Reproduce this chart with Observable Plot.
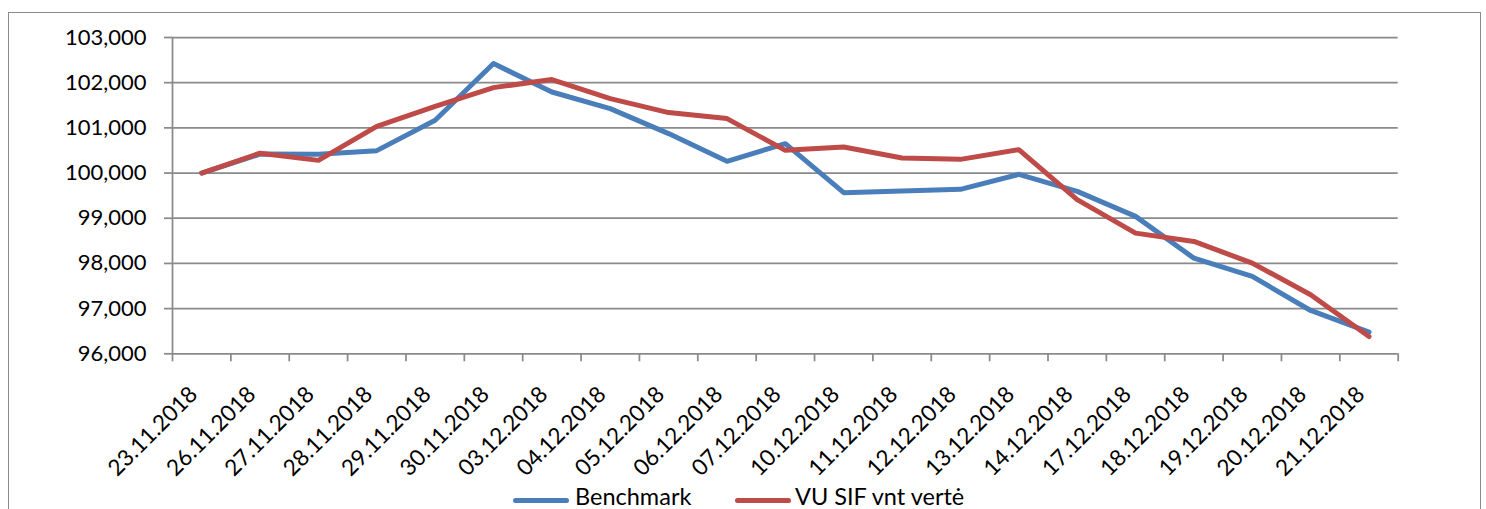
<!DOCTYPE html>
<html>
<head>
<meta charset="utf-8">
<script src="https://cdn.jsdelivr.net/npm/d3@7"></script>
<script src="https://cdn.jsdelivr.net/npm/@observablehq/plot@0.6"></script>
<style>
  html, body { margin: 0; padding: 0; background: #fff; }
  #wrap { position: relative; width: 1486px; height: 509px; overflow: hidden; font-family: Lato, "Open Sans", sans-serif; }
  #frame { position: absolute; left: 8px; top: 12px; width: 1473px; height: 520px; border: 1.5px solid #8a8a8a; box-sizing: border-box; }
  #chart { position: absolute; left: 0; top: 0; }
  #legend { position: absolute; left: 0; top: 0; width: 1486px; height: 509px; pointer-events: none; }
  .sw { position: absolute; height: 4.5px; border-radius: 3px; top: 498px; }
  .lt { position: absolute; font-size: 23.5px; top: 484px; line-height: 25px; color: #000; white-space: nowrap; }
</style>
</head>
<body>
<div id="wrap">
  <div id="frame"></div>
  <div id="chart"></div>
  <div id="legend"></div>
</div>
<script>
const dates = ["23.11.2018", "26.11.2018", "27.11.2018", "28.11.2018", "29.11.2018", "30.11.2018", "03.12.2018", "04.12.2018", "05.12.2018", "06.12.2018", "07.12.2018", "10.12.2018", "11.12.2018", "12.12.2018", "13.12.2018", "14.12.2018", "17.12.2018", "18.12.2018", "19.12.2018", "20.12.2018", "21.12.2018"];
const benchmark = [100000, 100420, 100414, 100496, 101167, 102423, 101794, 101426, 100873, 100259, 100651, 99566, 99601, 99639, 99971, 99595, 99041, 98117, 97712, 96959, 96478];
const vuSif = [100000, 100440, 100281, 101034, 101477, 101891, 102069, 101648, 101338, 101205, 100503, 100576, 100332, 100303, 100518, 99411, 98671, 98487, 98007, 97307, 96383];
const seriesNames = ["Benchmark", "VU SIF vnt vertė"];
const seriesColors = ["#4a7ebb", "#be4b48"];
const yTicks = [96000, 97000, 98000, 99000, 100000, 101000, 102000, 103000];

const idx = dates.map((d, i) => i);
const bounds = d3.range(dates.length + 1).map(i => i - 0.5);
const rowsB = idx.map(i => ({i, v: benchmark[i]}));
const rowsR = idx.map(i => ({i, v: vuSif[i]}));
const grid = "#8a8a8a";

const chart = Plot.plot({
  width: 1486,
  height: 509,
  marginLeft: 172,
  marginRight: 88.3,
  marginTop: 37,
  marginBottom: 155.7,
  style: {fontFamily: "Lato, 'Open Sans', sans-serif", fontSize: "22px", background: "transparent", color: "#000"},
  x: {type: "linear", domain: [-0.5, dates.length - 0.5], label: null},
  y: {domain: [96000, 103000], label: null},
  marks: [
    Plot.gridY(yTicks, {stroke: grid, strokeOpacity: 1, strokeWidth: 1.75}),
    Plot.ruleX([-0.5], {stroke: grid, strokeWidth: 1.75}),
    Plot.axisY({ticks: yTicks, tickSize: 8, tickPadding: 18, tickFormat: d3.format(","), stroke: grid, strokeWidth: 1.75, fontSize: 22, fill: "#000", label: null}),
    Plot.axisX({ticks: bounds, tickSize: 8, tickFormat: () => "", stroke: grid, strokeWidth: 1.75, label: null}),
    Plot.text(idx, {x: d => d, text: d => dates[d], frameAnchor: "bottom", rotate: -45, textAnchor: "end", lineAnchor: "bottom", dx: -3, dy: 42, fontSize: 22.5, fill: "#000"}),
    Plot.line(rowsB, {x: "i", y: "v", stroke: seriesColors[0], strokeWidth: 5, strokeLinejoin: "round", strokeLinecap: "round"}),
    Plot.line(rowsR, {x: "i", y: "v", stroke: seriesColors[1], strokeWidth: 5, strokeLinejoin: "round", strokeLinecap: "round"})
  ]
});
document.getElementById("chart").appendChild(chart);

const legend = document.getElementById("legend");
const legendPos = [{sw: 513, txt: 575}, {sw: 735, txt: 795}];
seriesNames.forEach((name, k) => {
  const s = document.createElement("div");
  s.className = "sw";
  s.style.left = legendPos[k].sw + "px";
  s.style.width = "56px";
  s.style.background = seriesColors[k];
  legend.appendChild(s);
  const t = document.createElement("div");
  t.className = "lt";
  t.style.left = legendPos[k].txt + "px";
  t.textContent = name;
  legend.appendChild(t);
});
</script>
</body>
</html>
